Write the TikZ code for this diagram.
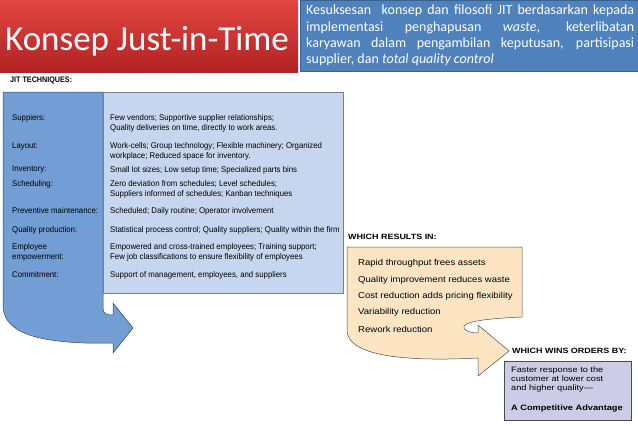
\documentclass[tikz,border=0pt]{standalone}
\usepackage{fontspec}
\setmainfont{Carlito}
\newfontfamily\tabf[FakeStretch=0.94]{Liberation Sans}
\newfontfamily\widef[FakeStretch=1.18]{Liberation Sans}
\newfontfamily\resf[FakeStretch=1.11]{Liberation Sans}
\newfontfamily\jitf[FakeStretch=0.9]{Liberation Sans}
\definecolor{titleTop}{RGB}{228,70,66}
\definecolor{titleBot}{RGB}{176,34,34}
\definecolor{hdrblue}{RGB}{79,129,189}
\definecolor{colblue}{RGB}{114,158,213}
\definecolor{lightblue}{RGB}{198,214,238}
\definecolor{orangefill}{RGB}{253,229,196}
\definecolor{purplefill}{RGB}{204,204,230}
\definecolor{edgegray}{RGB}{120,128,140}
\begin{document}
\begin{tikzpicture}[x=1pt,y=-1pt,
  tabtxt/.style={anchor=north west,inner sep=0,align=left,font=\tabf\fontsize{8.3}{10}\selectfont},
  headtxt/.style={anchor=west,inner sep=0,font=\widef\bfseries\fontsize{7.6}{9}\selectfont},
  restxt/.style={anchor=west,inner sep=0,font=\resf\fontsize{8.6}{10}\selectfont},
]
\useasboundingbox (0,0) rectangle (638,426);
\fill[white] (0,0) rectangle (638,426);
% title
\shade[top color=titleTop,bottom color=titleBot] (0,0) rectangle (298,72);
\node[anchor=west,inner sep=0,text=white,font=\fontsize{35}{40}\selectfont] (title) at (5,41) {Konsep Just-in-Time};
% header box
\node[fill=hdrblue,draw=hdrblue!75!black,minimum width=338pt,minimum height=71pt,anchor=north west,inner sep=0] (hbox) at (300,0) {};
\node[anchor=north west,inner sep=0,text=white,text width=328pt,align=justify,font=\fontsize{14}{16.3}\selectfont] (htext) at (306,5)
 {Kesuksesan\ \ konsep dan filosofi JIT berdasarkan kepada\linebreak implementasi penghapusan \textit{waste}, keterlibatan\linebreak karyawan dalam pengambilan keputusan, partisipasi\linebreak supplier, dan \textit{total quality control}};
% JIT techniques
\node[anchor=west,inner sep=0,font=\jitf\bfseries\fontsize{8}{9}\selectfont] (jit) at (10,80) {JIT TECHNIQUES:};
\draw[fill=colblue,draw=colblue!45!black,line width=0.5pt]
  (3,92) -- (103,92) -- (103,309) .. controls (103,314) and (108,315) .. (113,315)
  -- (113,303) -- (133,328) -- (113,353) -- (113,343) -- (85,343)
  .. controls (30,341) and (3,330) .. (3,305) -- cycle;
\draw[fill=lightblue,draw=edgegray,line width=0.6pt] (103,92) rectangle (343,293);
% rows
\node[tabtxt] (l1) at (12,114.5) {Suppiers:};
\node[tabtxt] (r1) at (110,114.5) {Few vendors; Supportive supplier relationships;\\Quality deliveries on time, directly to work areas.};
\node[tabtxt] (l2) at (12,142.5) {Layout:};
\node[tabtxt] (r2) at (110,142.5) {Work-cells; Group technology; Flexible machinery; Organized\\workplace; Reduced space for inventory.};
\node[tabtxt] (l3) at (12,166) {Inventory:};
\node[tabtxt] (r3) at (110,166) {Small lot sizes; Low setup time; Specialized parts bins};
\node[tabtxt] (l4) at (12,180) {Scheduling:};
\node[tabtxt] (r4) at (110,180) {Zero deviation from schedules; Level schedules;\\Suppliers informed of schedules; Kanban techniques};
\node[tabtxt] (l5) at (12,207) {Preventive maintenance:};
\node[tabtxt] (r5) at (110,207) {Scheduled; Daily routine; Operator involvement};
\node[tabtxt] (l6) at (12,226) {Quality production:};
\node[tabtxt] (r6) at (110,226) {Statistical process control; Quality suppliers; Quality within the firm};
\node[tabtxt] (l7) at (12,243) {Employee\\empowerment:};
\node[tabtxt] (r7) at (110,243) {Empowered and cross-trained employees; Training support;\\Few job classifications to ensure flexibility of employees};
\node[tabtxt] (l8) at (12,271) {Commitment:};
\node[tabtxt] (r8) at (110,271) {Support of management, employees, and suppliers};
% results
\node[headtxt] (res) at (348,237) {WHICH RESULTS IN:};
\draw[fill=orangefill,draw=black!70,line width=0.5pt]
  (347,247) -- (522,247) -- (522,317) .. controls (500,318) and (468,320) .. (464,326)
  .. controls (462,330) and (470,333) .. (478,333) -- (478,325) -- (509,351) -- (478,376)
  -- (478,358) .. controls (400,362) and (347,355) .. (347,330) -- cycle;
\node[restxt] (o1) at (358,263) {Rapid throughput frees assets};
\node[restxt] (o2) at (358,280) {Quality improvement reduces waste};
\node[restxt] (o3) at (358,296) {Cost reduction adds pricing flexibility};
\node[restxt] (o4) at (358,312) {Variability reduction};
\node[restxt] (o5) at (358,329) {Rework reduction};
% wins orders
\node[headtxt] (win) at (512,351) {WHICH WINS ORDERS BY:};
\draw[fill=purplefill,draw=black!70,line width=0.5pt] (504,361) rectangle (631,420);
\node[anchor=north west,inner sep=0,align=left,font=\widef\fontsize{7.8}{9}\selectfont] (p1) at (511,367) {Faster response to the\\customer at lower cost\\and higher quality—};
\node[anchor=west,inner sep=0,font=\widef\bfseries\fontsize{7.8}{9}\selectfont] (p2) at (511,408) {A Competitive Advantage};
\end{tikzpicture}
\end{document}
